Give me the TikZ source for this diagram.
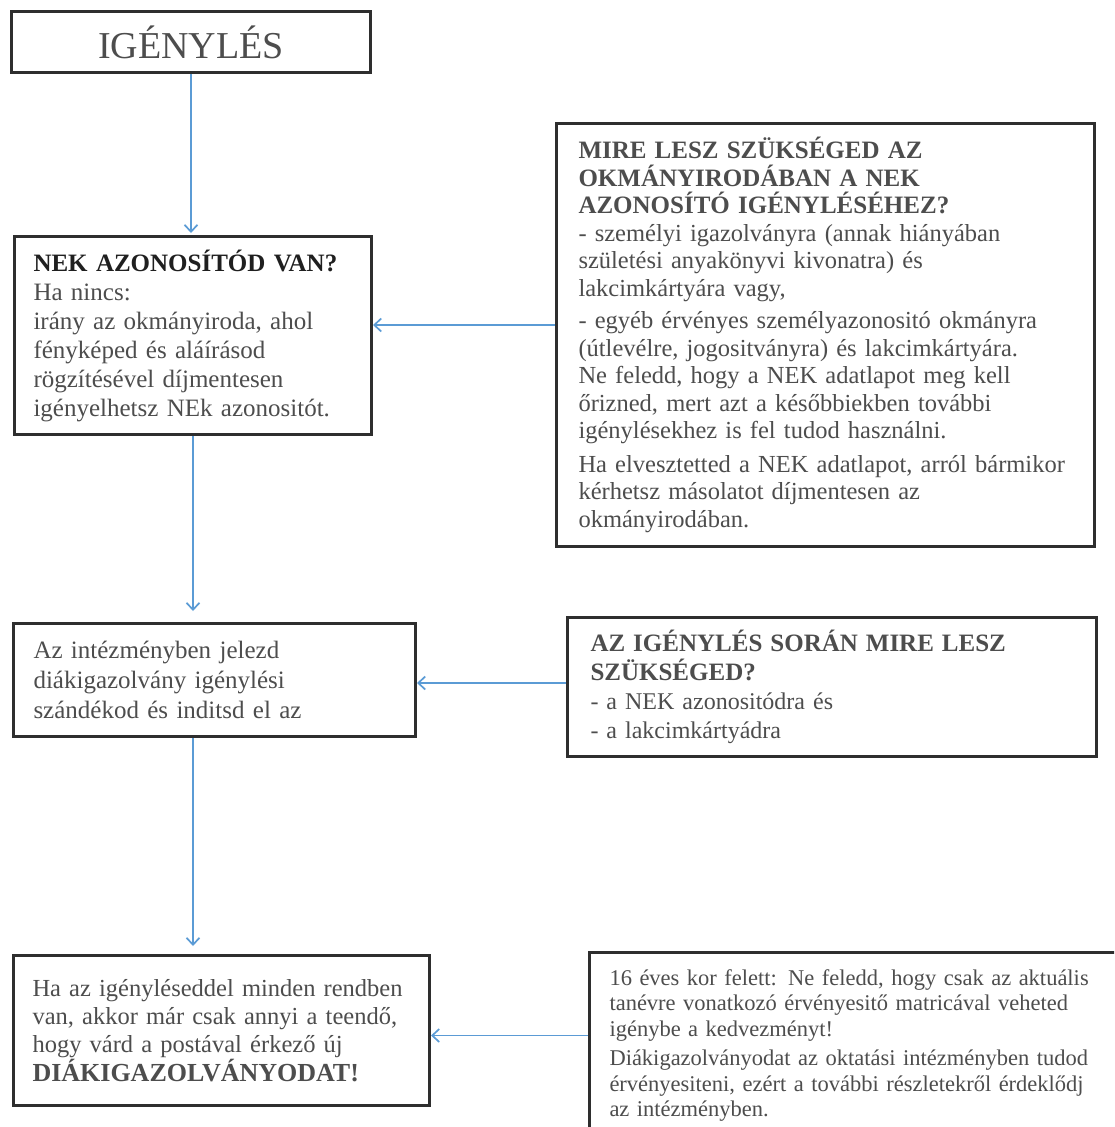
\documentclass[tikz,border=0pt]{standalone}
\usepackage{fontspec}
\setmainfont{Liberation Serif}
\usetikzlibrary{arrows.meta,positioning}
\tikzset{box/.style={draw=boxline,line width=3pt,fill=white,anchor=north west,align=left,inner ysep=6pt,text=txt},
    arr/.style={draw=arrblue,line width=1.7pt,-{Straight Barb[length=7pt,width=13pt]}}}

\begin{document}
\begin{tikzpicture}[x=1pt,y=-1pt]
    \definecolor{boxline}{HTML}{2E2E2E}
    \definecolor{txt}{HTML}{4D4D4D}
    \definecolor{arrblue}{HTML}{5B9BD5}
    \colorlet{head}{black!88}

    \useasboundingbox (0,0) rectangle (1114,1127);
    \clip (0,0) rectangle (1114,1127);

    \node [box,align=center,minimum width=359pt,minimum height=61pt,
        font=\fontsize{38}{44}\selectfont] (igeny) at (10,10) {IGÉNYLÉS};

    \node [box,minimum width=357pt,minimum height=198pt,inner xsep=19pt,text width=319pt,
        font=\fontsize{25}{29}\selectfont] (nek) at (13,235)
        {\textcolor{head}{\textbf{NEK AZONOSÍTÓD VAN?}}\\
        Ha nincs:\\
        irány az okmányiroda, ahol\\
        fényképed és aláírásod\\
        rögzítésével díjmentesen\\
        igényelhetsz NEk azonositót.};

    \node [box,minimum width=538pt,minimum height=423pt,inner xsep=22pt,text width=494pt,
        font=\fontsize{24.5}{27.5}\selectfont] (okm) at (555,122)
        {\textbf{\fontsize{25}{30}\selectfont MIRE LESZ SZÜKSÉGED AZ}\\
        \textbf{\fontsize{25}{30}\selectfont OKMÁNYIRODÁBAN A NEK}\\
        \textbf{\fontsize{25}{30}\selectfont AZONOSÍTÓ IGÉNYLÉSÉHEZ?}\\
        - személyi igazolványra (annak hiányában\\
        születési anyakönyvi kivonatra) és\\
        lakcimkártyára vagy,\\[5pt]
        - egyéb érvényes személyazonositó okmányra\\
        (útlevélre, jogositványra) és lakcimkártyára.\\
        Ne feledd, hogy a NEK adatlapot meg kell\\
        őrizned, mert azt a későbbiekben további\\
        igénylésekhez is fel tudod használni.\\[6pt]
        Ha elvesztetted a NEK adatlapot, arról bármikor\\
        kérhetsz másolatot díjmentesen az\\
        okmányirodában.};

    \node [box,minimum width=402pt,minimum height=113pt,inner xsep=20pt,text width=362pt,
        font=\fontsize{25}{30}\selectfont] (intez) at (12,622)
        {Az intézményben jelezd\\
        diákigazolvány igénylési\\
        szándékod és inditsd el az};

    \node [box,minimum width=529pt,minimum height=139pt,inner xsep=23pt,text width=483pt,
        font=\fontsize{24}{29}\selectfont] (soran) at (566,616)
        {\textbf{\fontsize{25}{29}\selectfont AZ IGÉNYLÉS SORÁN MIRE LESZ}\\
        \textbf{\fontsize{25}{29}\selectfont SZÜKSÉGED?}\\
        - a NEK azonositódra és\\
        - a lakcimkártyádra};

    \node [box,minimum width=416pt,minimum height=150pt,inner xsep=19pt,text width=378pt,
        font=\fontsize{24.5}{28}\selectfont] (vege) at (12,954)
        {Ha az igényléseddel minden rendben\\
        van, akkor már csak annyi a teendő,\\
        hogy várd a postával érkező új\\[1pt]
        \textbf{\fontsize{26}{30}\selectfont DIÁKIGAZOLVÁNYODAT!}};

    \node [box,minimum width=540pt,minimum height=186pt,inner xsep=20pt,text width=500pt,
        font=\fontsize{22.5}{25.5}\selectfont] (tizenhat) at (588,951)
        {16 éves kor felett: Ne feledd, hogy csak az aktuális\\
        tanévre vonatkozó érvényesitő matricával veheted\\
        igénybe a kedvezményt!\\[4pt]
        Diákigazolványodat az oktatási intézményben tudod\\
        érvényesiteni, ezért a további részletekről érdeklődj\\
        az intézményben.};

    % lefele
    \draw [arr,shorten >=2pt] (igeny.south) -- (igeny.south |- nek.north);
    \draw [arr,shorten >=11pt] (nek.south) -- (nek.south |- intez.north);
    \draw [arr,shorten >=8pt] (intez.south -| nek.south) -- (nek.south |- vege.north);

    % oldalrol
    \coordinate (okmbe) at ([yshift=10pt]okm.west);
    \coordinate (soranbe) at ([yshift=4pt]soran.west);
    \coordinate (tizbe) at ([yshift=10pt]tizenhat.west);
    \draw [arr] (okmbe) -- (okmbe -| nek.east);
    \draw [arr] (soranbe) -- (soranbe -| intez.east);
    \draw [arr] (tizbe) -- (tizbe -| vege.east);
\end{tikzpicture}
\end{document}
